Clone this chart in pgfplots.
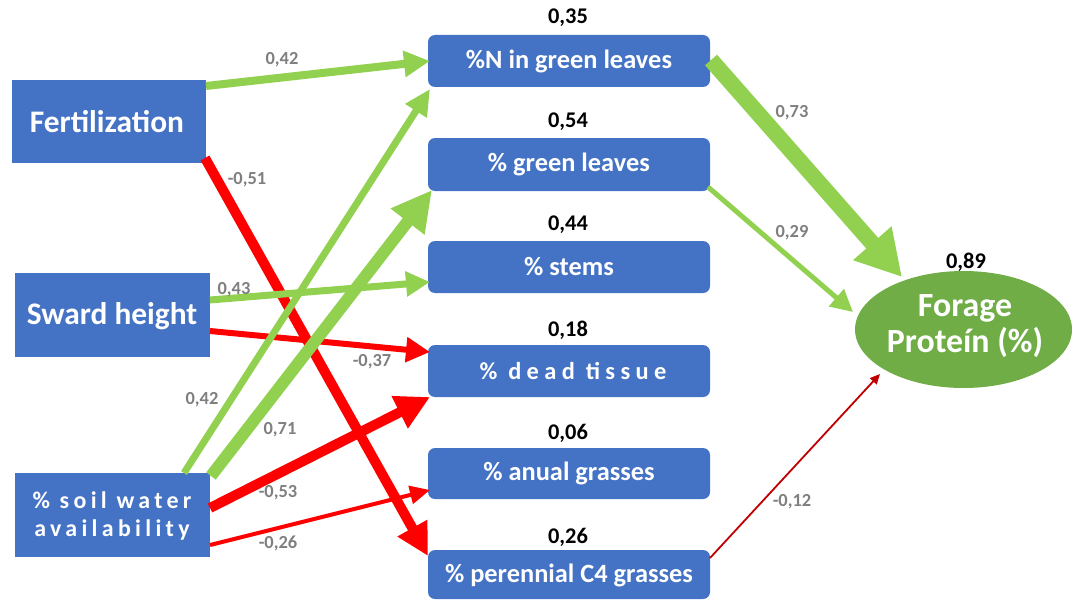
\documentclass[border=0pt]{standalone}
\usepackage{pgfplots}
\pgfplotsset{compat=1.18}
\usetikzlibrary{arrows.meta}
\usepackage{fontspec}
\setmainfont{Carlito}

\definecolor{boxblue}{HTML}{4472C4}
\definecolor{pathgreen}{HTML}{92D050}
\definecolor{pathred}{HTML}{FF0000}
\definecolor{darkred}{HTML}{C00000}
\definecolor{ovalgreen}{HTML}{70AD47}
\definecolor{coefgray}{HTML}{7F7F7F}

\newcommand{\fs}[1]{\fontsize{#1}{#1}\selectfont}

\tikzset{
  coef/.style={text=coefgray, font=\bfseries\fs{18.5}},
  rsq/.style={text=black, font=\bfseries\fs{22.5}},
  midbox/.style={text=white, font=\bfseries\fs{26.5}},
  leftbox/.style={text=white, font=\bfseries\fs{31.5}},
}

\begin{document}
\begin{tikzpicture}
\begin{axis}[
  scale only axis, width=1074bp, height=601bp,
  xmin=0, xmax=1074, ymin=0, ymax=601, y dir=reverse,
  hide axis, clip=false,
]
% full drawing area
\path (axis cs:0,0) rectangle (axis cs:1074,601);

% ---------- exogenous variables (left column)
\addplot[fill=boxblue, draw=none] coordinates {(12,80) (206,80) (206,163) (12,163)} -- cycle;
\addplot[fill=boxblue, draw=none] coordinates {(15,273) (210,273) (210,357) (15,357)} -- cycle;
\addplot[fill=boxblue, draw=none] coordinates {(15,473) (210,473) (210,557) (15,557)} -- cycle;

% ---------- mediating variables (middle column)
\addplot[fill=boxblue, draw=none, rounded corners=7bp] coordinates {(428,35) (710,35) (710,87) (428,87)} -- cycle;
\addplot[fill=boxblue, draw=none, rounded corners=7bp] coordinates {(428,138) (710,138) (710,191) (428,191)} -- cycle;
\addplot[fill=boxblue, draw=none, rounded corners=7bp] coordinates {(428,241) (710,241) (710,293) (428,293)} -- cycle;
\addplot[fill=boxblue, draw=none, rounded corners=7bp] coordinates {(428,345) (710,345) (710,397) (428,397)} -- cycle;
\addplot[fill=boxblue, draw=none, rounded corners=7bp] coordinates {(428,448) (710,448) (710,499) (428,499)} -- cycle;
\addplot[fill=boxblue, draw=none, rounded corners=7bp] coordinates {(428,550) (710,550) (710,599) (428,599)} -- cycle;

% ---------- response variable
\fill[ovalgreen] (axis cs:963.5,329.5) ellipse [x radius=108.5, y radius=58.5];

% ---------- paths: Fertilization
\addplot[pathgreen, line width=8bp, -{Triangle[width=25bp,length=26bp]}] coordinates {(206,86) (430,61)};
\addplot[pathred, line width=10bp, -{Triangle[width=32bp,length=32bp]}] coordinates {(205,158) (428,556)};
% ---------- paths: Sward height
\addplot[pathgreen, line width=7bp, -{Triangle[width=24bp,length=24bp]}] coordinates {(210,300) (430,282)};
\addplot[pathred, line width=6bp, -{Triangle[width=24bp,length=24bp]}] coordinates {(210,331) (430,352)};
% ---------- paths: soil water availability
\addplot[pathgreen, line width=7bp, -{Triangle[width=24bp,length=26bp]}] coordinates {(184,473) (430,89)};
\addplot[pathgreen, line width=12bp, -{Triangle[width=40bp,length=40bp]}] coordinates {(211,476) (432,190)};
\addplot[pathred, line width=10bp, -{Triangle[width=34bp,length=34bp]}] coordinates {(210,508) (430,397)};
\addplot[pathred, line width=4bp, -{Triangle[width=18bp,length=20bp]}] coordinates {(210,545) (430,490)};
% ---------- paths into Forage Protein
\addplot[pathgreen, line width=16bp, -{Triangle[width=48bp,length=45bp]}] coordinates {(711,60) (902,277)};
\addplot[pathgreen, line width=5bp, -{Triangle[width=22bp,length=22bp]}] coordinates {(708,187) (853,312)};
\addplot[darkred, line width=1.8bp, -{Triangle[width=9bp,length=10bp]}] coordinates {(710,558) (880,374)};

% ---------- path coefficients
\node[coef] at (axis cs:282,60) {0,42};
\node[coef] at (axis cs:247,180) {-0,51};
\node[coef] at (axis cs:234,290) {0,43};
\node[coef] at (axis cs:372,362) {-0,37};
\node[coef] at (axis cs:202,400) {0,42};
\node[coef] at (axis cs:280,430) {0,71};
\node[coef] at (axis cs:278,493) {-0,53};
\node[coef] at (axis cs:278,543) {-0,26};
\node[coef] at (axis cs:792,113) {0,73};
\node[coef] at (axis cs:792,233) {0,29};
\node[coef] at (axis cs:792,502) {-0,12};

% ---------- explained variance
\node[rsq] at (axis cs:568,18) {0,35};
\node[rsq] at (axis cs:568,122) {0,54};
\node[rsq] at (axis cs:568,225) {0,44};
\node[rsq] at (axis cs:568,330) {0,18};
\node[rsq] at (axis cs:568,433) {0,06};
\node[rsq] at (axis cs:568,537) {0,26};
\node[rsq] at (axis cs:966,262) {0,89};

% ---------- variable names
\node[leftbox] at (axis cs:107,122) {Fertilization};
\node[leftbox] at (axis cs:112,316) {Sward height};
\node[text=white, font=\bfseries\fs{24}\addfontfeatures{LetterSpace=18}, align=center, inner sep=0pt]
  at (axis cs:112,516) {\% soil water\\[5bp]availability};
\node[midbox] at (axis cs:569,61) {\%N in green leaves};
\node[midbox] at (axis cs:569,164) {\% green leaves};
\node[midbox] at (axis cs:569,267) {\% stems};
\node[text=white, font=\bfseries\fs{24.5}\addfontfeatures{LetterSpace=22}] at (axis cs:573,371) {\% dead tissue};
\node[midbox] at (axis cs:569,473) {\% anual grasses};
\node[midbox] at (axis cs:569,575) {\% perennial C4 grasses};
\node[text=white, font=\bfseries\fs{34}, align=center, inner sep=0pt]
  at (axis cs:965,326) {Forage\\[2bp]Proteín (\%)};
\end{axis}
\end{tikzpicture}
\end{document}
